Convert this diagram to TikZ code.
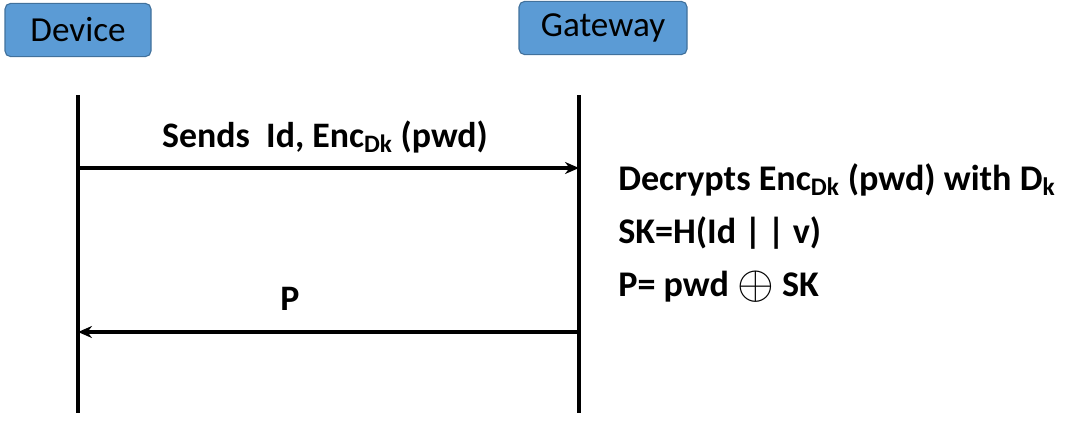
\documentclass[tikz,border=0pt]{standalone}
\usepackage{fontspec}
\usepackage{graphicx}
\setmainfont{Carlito}
\usetikzlibrary{arrows.meta}
\definecolor{boxblue}{HTML}{5B9BD5}
\definecolor{boxedge}{HTML}{41719C}
\begin{document}
\begin{tikzpicture}[
  actor/.style={draw=boxedge, fill=boxblue, rounded corners=4pt, line width=0.8pt,
    minimum height=1.33cm, font=\fontsize{25}{28}\selectfont, inner sep=0pt},
  lifeline/.style={line width=2.2pt},
  msg/.style={line width=2.2pt, -{Stealth[length=0.35cm, width=0.3cm]}},
  lbl/.style={font=\fontsize{25.5}{29}\selectfont\bfseries, anchor=base, inner sep=0pt},
  calc/.style={font=\fontsize{25.7}{29}\selectfont\bfseries, anchor=base west, inner sep=0pt}
]
\useasboundingbox (0,0) rectangle (27,-10.825);

% Participants
\node[actor, minimum width=3.65cm] (dev) at (1.95,-0.75) {Device};
\node[actor, minimum width=4.2cm] (gw) at (15.075,-0.7) {Gateway};

% Lifelines
\coordinate (devtop) at (1.95,-2.375);
\coordinate (devbot) at (1.95,-10.325);
\coordinate (gwtop) at (14.475,-2.375);
\coordinate (gwbot) at (14.475,-10.325);
\draw[lifeline] (devtop) -- (devbot);
\draw[lifeline] (gwtop) -- (gwbot);

% Messages
\coordinate (m1s) at (1.95,-4.2);
\coordinate (m1e) at (14.475,-4.2);
\coordinate (m2s) at (14.475,-8.3);
\coordinate (m2e) at (1.95,-8.3);
\draw[msg] (m1s) -- (m1e);
\draw[msg] (m2s) -- (m2e);

\node[lbl] (sends) at (8.125,-3.675) {Sends\ \ Id, Enc\textsubscript{Dk} (pwd)};
\node[lbl] (p) at (7.25,-7.75) {P};

% Gateway computation
\node[calc] (dec) at (15.45,-4.75)
  {Decrypts Enc\textsubscript{Dk} (pwd) with D\textsubscript{k}};
\node[calc] (sk) at (15.45,-6.075)
  {SK=H(Id \textbar\,\textbar\ v)};
\node[calc] (pw) at (15.45,-7.4)
  {P= pwd \raisebox{-0.08em}{\scalebox{1.35}{$\oplus$}} SK};
\end{tikzpicture}
\end{document}
